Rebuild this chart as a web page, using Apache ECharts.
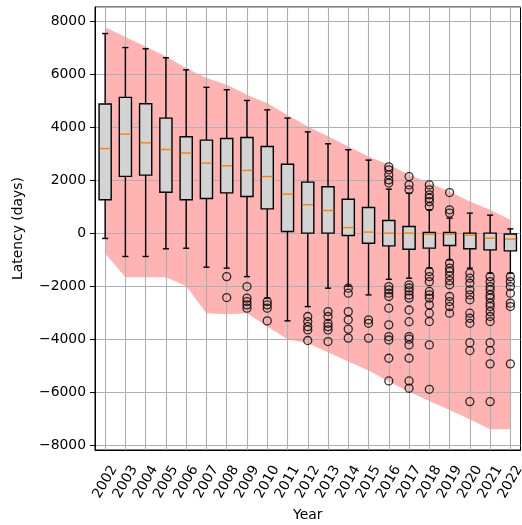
<!DOCTYPE html>
<html>
<head>
<meta charset="utf-8">
<script src="https://cdn.jsdelivr.net/npm/echarts@6/dist/echarts.min.js"></script>
<style>
  html, body { margin: 0; padding: 0; background: #fff; }
  #chart { width: 522px; height: 525px; }
</style>
</head>
<body>
<div id="chart"></div>
<script>
const years = ['2002', '2003', '2004', '2005', '2006', '2007', '2008', '2009', '2010', '2011',
  '2012', '2013', '2014', '2015', '2016', '2017', '2018', '2019', '2020', '2021', '2022'];

// box stats per year
const whiskerLow = [-200, -880, -880, -590, -570, -1285, -1320, -1640, -2450, -3310,
  -2770, -2075, -2000, -2330, -1740, -1700, -1320, -1010, -1320, -1510, -1510];
const q1 = [1260, 2140, 2190, 1545, 1257, 1305, 1520, 1380, 917, 60,
  0, 0, -90, -380, -480, -605, -565, -465, -590, -630, -670];
const median = [3190, 3735, 3410, 3155, 3020, 2640, 2540, 2365, 2135, 1470,
  1070, 855, 210, 40, 0, 0, -40, -40, -75, -190, -225];
const q3 = [4870, 5120, 4880, 4340, 3635, 3510, 3570, 3610, 3270, 2600,
  1925, 1750, 1280, 965, 475, 250, 25, 25, 0, 0, -30];
const whiskerHigh = [7530, 7000, 6955, 6615, 6160, 5500, 5410, 5005, 4650, 4340,
  3820, 3370, 3145, 2755, 1660, 1510, 880, 565, 755, 680, 160];

const outliers = [
  [], [], [], [], [], [],
  [-1640, -2430],
  [-2015, -2450, -2580, -2705, -2830],
  [-2580, -2705, -2830, -3310],
  [],
  [-3145, -3335, -3525, -3650, -4050],
  [-2960, -3145, -3400, -3525, -3650, -4090],
  [-2075, -2265, -2960, -3270, -3620, -3960],
  [-3270, -3400, -3960],
  [2500, 2390, 2200, 2010, 1890, -2015, -2140, -2265, -2390, -2830, -3460, -3900, -4030, -4720, -5575],
  [2135, 1820, 1635, -1950, -2070, -2180, -2330, -2450, -2900, -3340, -3900, -4000, -4215, -4720, -5575, -5850],
  [1820, 1635, 1445, 1320, 1190, 1005, -1450, -1640, -1830, -2200, -2330, -2450, -2705, -3020, -3335, -4215, -5890],
  [1530, 880, 755, -1130, -1320, -1450, -1610, -1790, -1950, -2390, -2580, -2770, -3020],
  [-1510, -1700, -1890, -2140, -2330, -2515, -3020, -3210, -3400, -4130, -4430, -6355],
  [-1640, -1830, -2015, -2140, -2330, -2450, -2640, -2770, -2960, -3145, -3335, -4130, -4430, -4930, -6355],
  [-1640, -1830, -2015, -2265, -2640, -2770, -4930]
];

// shaded range
const bandUpper = [7770, 7400, 7040, 6660, 6230, 5850, 5600, 5220, 4900, 4460,
  4020, 3650, 3270, 2890, 2580, 2200, 1890, 1570, 1190, 880, 500];
const bandLower = [-755, -1660, -1660, -1660, -1990, -3020, -3060, -3020, -3520, -4000,
  -4150, -4495, -4845, -5185, -5600, -5980, -6330, -6670, -7020, -7400, -7400];

const yTicks = [-8000, -6000, -4000, -2000, 0, 2000, 4000, 6000, 8000];

const FONT = 'DejaVu Sans';
const fmt = (v) => (v < 0 ? '\u2212' + Math.abs(v) : String(v));

const boxData = years.map((y, i) => [i, whiskerLow[i], q1[i], median[i], q3[i], whiskerHigh[i]]);
const outlierData = [];
outliers.forEach((list, i) => list.forEach((v) => outlierData.push([i, v])));

const renderBox = (params, api) => {
  const i = api.value(0);
  const band = api.size([1, 0])[0];
  const bw = band * 0.6;
  const cw = bw * 0.5;
  const x = api.coord([i, 0])[0];
  const yLo = api.coord([i, api.value(1)])[1];
  const yQ1 = api.coord([i, api.value(2)])[1];
  const yMed = api.coord([i, api.value(3)])[1];
  const yQ3 = api.coord([i, api.value(4)])[1];
  const yHi = api.coord([i, api.value(5)])[1];
  const stroke = { stroke: '#000', lineWidth: 1.4 };
  return {
    type: 'group',
    children: [
      { type: 'line', shape: { x1: x, y1: yLo, x2: x, y2: yQ1 }, style: stroke },
      { type: 'line', shape: { x1: x, y1: yQ3, x2: x, y2: yHi }, style: stroke },
      { type: 'line', shape: { x1: x - cw / 2, y1: yLo, x2: x + cw / 2, y2: yLo }, style: stroke },
      { type: 'line', shape: { x1: x - cw / 2, y1: yHi, x2: x + cw / 2, y2: yHi }, style: stroke },
      {
        type: 'rect',
        shape: { x: x - bw / 2, y: yQ3, width: bw, height: yQ1 - yQ3 },
        style: { fill: '#d3d3d3', stroke: '#000', lineWidth: 1.4 },
      },
      {
        type: 'line',
        shape: { x1: x - bw / 2 + 0.7, y1: yMed, x2: x + bw / 2 - 0.7, y2: yMed },
        style: { stroke: '#ff7f0e', lineWidth: 1.4 },
      },
    ],
  };
};

const chart = echarts.init(document.getElementById('chart'), null, { renderer: 'canvas' });
chart.setOption({
  animation: false,
  textStyle: { fontFamily: FONT },
  grid: {
    left: 95, right: 1.5, top: 7, bottom: 75,
    outerBoundsMode: 'none',
    show: true, borderColor: '#000', borderWidth: 1, backgroundColor: 'transparent',
  },
  xAxis: {
    type: 'category',
    data: years,
    boundaryGap: true,
    zlevel: 1,
    name: 'Year',
    nameLocation: 'middle',
    nameGap: 57,
    nameTextStyle: { fontFamily: FONT, fontSize: 13.9, color: '#000' },
    axisLine: { onZero: false, lineStyle: { color: '#000', width: 1 } },
    axisTick: { alignWithLabel: true, interval: 0, length: 5, lineStyle: { color: '#000' } },
    axisLabel: {
      interval: 0, rotate: 60, margin: 32, align: 'center', verticalAlign: 'middle',
      fontFamily: FONT, fontSize: 13.9, color: '#000',
    },
    splitLine: { show: true, interval: 0, alignWithLabel: true, lineStyle: { color: '#b0b0b0', width: 1.1 } },
  },
  yAxis: {
    type: 'value',
    min: -8180,
    max: 8530,
    minInterval: 2000,
    maxInterval: 2000,
    zlevel: 1,
    name: 'Latency (days)',
    nameLocation: 'middle',
    nameGap: 70,
    nameTextStyle: { fontFamily: FONT, fontSize: 13.9, color: '#000' },
    axisLine: { show: true, lineStyle: { color: '#000', width: 1 } },
    axisTick: { show: true, length: 5, lineStyle: { color: '#000' } },
    axisLabel: {
      margin: 9, fontFamily: FONT, fontSize: 13.9, color: '#000',
      showMinLabel: false, showMaxLabel: false,
      formatter: (v) => (yTicks.includes(v) ? fmt(v) : ''),
    },
    splitLine: { show: true, lineStyle: { color: '#b0b0b0', width: 1.1 } },
  },
  series: [
    {
      type: 'line',
      data: bandLower,
      stack: 'band',
      stackStrategy: 'all',
      symbol: 'none',
      lineStyle: { opacity: 0 },
      zlevel: 0,
      silent: true,
    },
    {
      type: 'line',
      data: bandUpper.map((v, i) => v - bandLower[i]),
      stack: 'band',
      stackStrategy: 'all',
      symbol: 'none',
      lineStyle: { opacity: 0 },
      areaStyle: { color: '#ffb3b3', opacity: 1 },
      zlevel: 0,
      silent: true,
    },
    {
      type: 'custom',
      renderItem: renderBox,
      data: boxData,
      encode: { x: 0, y: [1, 2, 3, 4, 5] },
      zlevel: 2,
    },
    {
      type: 'scatter',
      data: outlierData,
      symbol: 'circle',
      symbolSize: 8,
      itemStyle: { color: 'transparent', borderColor: '#000', borderWidth: 1.3 },
      zlevel: 2,
    },
  ],
});
</script>
</body>
</html>
